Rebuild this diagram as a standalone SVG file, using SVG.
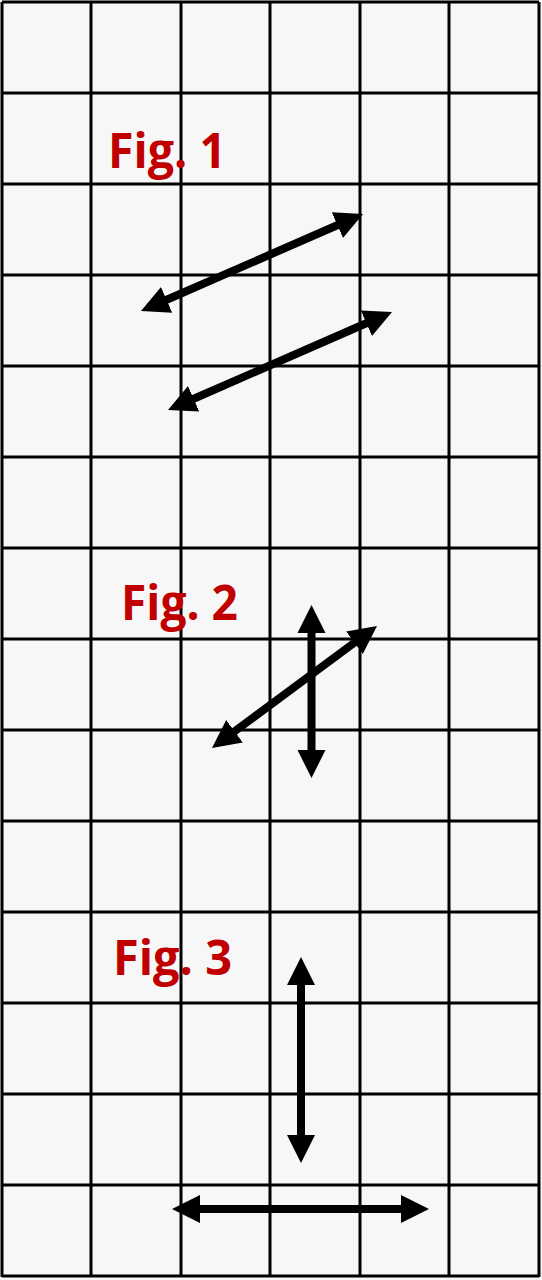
<svg xmlns="http://www.w3.org/2000/svg" width="542" height="1280" viewBox="0 0 542 1280">
<style>
.grid line{stroke:#000;stroke-width:3}
.lbl{font-family:"Open Sans","Noto Sans",sans-serif;font-weight:bold;font-size:48px;fill:#c00000}
.arr{stroke:#000;stroke-width:8;fill:none;marker-start:url(#ah);marker-end:url(#ah)}
</style>
<defs>
<marker id="ah" markerUnits="userSpaceOnUse" markerWidth="30" markerHeight="32" viewBox="0 -16 30 32" refX="8" refY="0" orient="auto-start-reverse">
<path d="M0,-14 L28,0 L0,14 Z" fill="#000"/>
</marker>
</defs>
<rect x="0" y="0" width="542" height="1280" fill="#f7f7f7"/>
<g id="grid" class="grid">
<line x1="2" y1="2" x2="2" y2="1277"/>
<line x1="91" y1="2" x2="91" y2="1277"/>
<line x1="181" y1="2" x2="181" y2="1277"/>
<line x1="270" y1="2" x2="270" y2="1277"/>
<line x1="360" y1="2" x2="360" y2="1277"/>
<line x1="449" y1="2" x2="449" y2="1277"/>
<line x1="539" y1="2" x2="539" y2="1277"/>
<line x1="2" y1="2" x2="539" y2="2"/>
<line x1="2" y1="93" x2="539" y2="93"/>
<line x1="2" y1="184" x2="539" y2="184"/>
<line x1="2" y1="275" x2="539" y2="275"/>
<line x1="2" y1="366" x2="539" y2="366"/>
<line x1="2" y1="457" x2="539" y2="457"/>
<line x1="2" y1="548" x2="539" y2="548"/>
<line x1="2" y1="639" x2="539" y2="639"/>
<line x1="2" y1="730" x2="539" y2="730"/>
<line x1="2" y1="821" x2="539" y2="821"/>
<line x1="2" y1="912" x2="539" y2="912"/>
<line x1="2" y1="1003" x2="539" y2="1003"/>
<line x1="2" y1="1094" x2="539" y2="1094"/>
<line x1="2" y1="1185" x2="539" y2="1185"/>
<line x1="2" y1="1276" x2="539" y2="1276"/>
</g>
<g id="fig1-label"><text class="lbl" x="108" y="168" textLength="118" lengthAdjust="spacingAndGlyphs">Fig. 1</text></g>
<g id="fig2-label"><text class="lbl" x="121" y="620" textLength="117" lengthAdjust="spacingAndGlyphs">Fig. 2</text></g>
<g id="fig3-label"><text class="lbl" x="113" y="975" textLength="119" lengthAdjust="spacingAndGlyphs">Fig. 3</text></g>
<g id="connectors">
<line class="arr" x1="159.3" y1="303" x2="344.7" y2="222"/>
<line class="arr" x1="186.3" y1="402" x2="373.7" y2="320"/>
<line class="arr" x1="311.5" y1="625" x2="311.5" y2="758"/>
<line class="arr" x1="228.1" y1="736.1" x2="360.9" y2="637.9"/>
<line class="arr" x1="301" y1="977" x2="301" y2="1143"/>
<line class="arr" x1="192" y1="1209" x2="409" y2="1209"/>
</g>
</svg>
